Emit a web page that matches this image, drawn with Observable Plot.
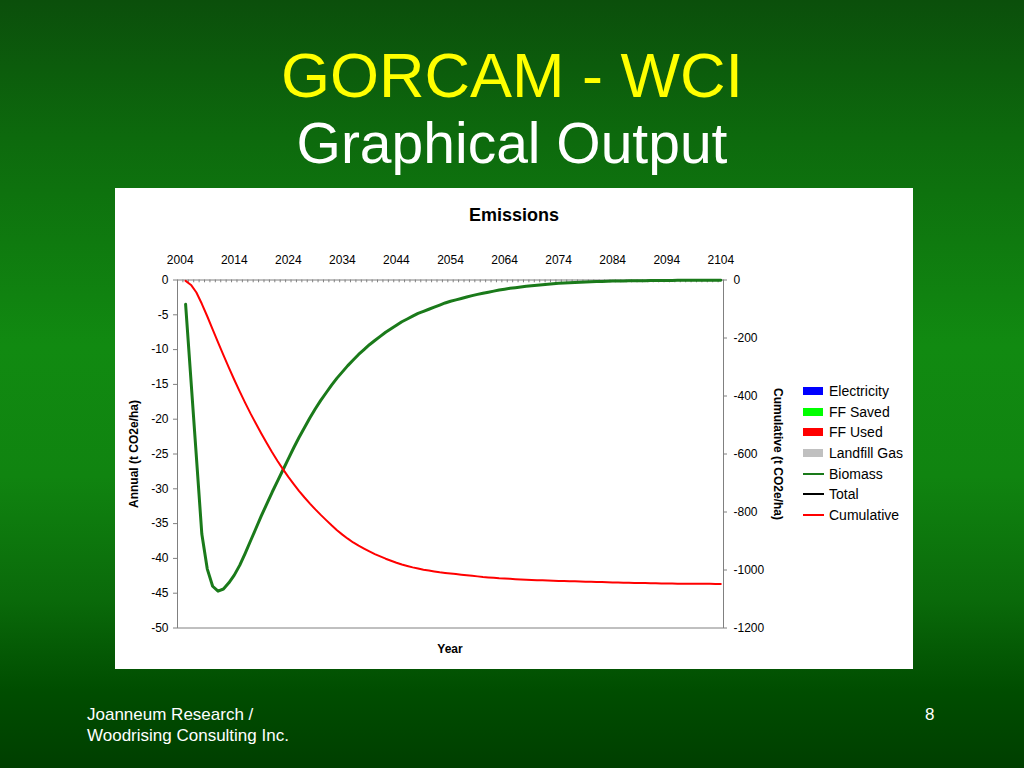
<!DOCTYPE html>
<html><head><meta charset="utf-8">
<script src="https://cdn.jsdelivr.net/npm/d3@7"></script>
<script src="https://cdn.jsdelivr.net/npm/@observablehq/plot@0.6"></script>
<style>
html,body{margin:0;padding:0;}
body{width:1024px;height:768px;overflow:hidden;position:relative;font-family:"Liberation Sans",Arial,sans-serif;
background:linear-gradient(180deg,#0b4f0b 0%,#0d6a0d 18%,#118a11 45%,#108410 62%,#0a6a0a 78%,#004d00 90%,#003f00 100%);}
.abs{position:absolute;white-space:nowrap;}
#t1{left:0;width:1024px;text-align:center;top:43.5px;font-size:63px;line-height:1;color:#ffff00;}
#t2{left:0;width:1024px;text-align:center;top:115px;font-size:57px;line-height:1;color:#ffffff;}
#panel{position:absolute;left:115px;top:188px;width:798px;height:481px;background:#fff;}
#panel svg{position:absolute;left:0;top:0;}
.ctr{transform:translate(-50%,-50%);line-height:1;font-weight:bold;color:#000;}
#ctitle{left:399px;top:26.5px;font-size:18px;}
#xlab{left:335px;top:461px;font-size:12px;}
#ylab{left:19px;top:265.5px;font-size:12px;transform:translate(-50%,-50%) rotate(-90deg);}
#y2lab{left:663px;top:265.5px;font-size:12px;transform:translate(-50%,-50%) rotate(90deg);}
#legend{left:688px;top:193px;font-size:14px;color:#000;}
.row{display:flex;align-items:center;height:20.6px;}
.sw{width:20px;margin-right:6px;}
#foot{left:87px;top:704px;font-size:17px;line-height:21px;color:#fff;}
#page{left:925px;top:704px;font-size:17px;line-height:21px;color:#fff;}
</style></head><body>
<div id="t1" class="abs">GORCAM - WCI</div>
<div id="t2" class="abs">Graphical Output</div>
<div id="panel">
  <div id="ctitle" class="abs ctr">Emissions</div>
  <div id="xlab" class="abs ctr">Year</div>
  <div id="ylab" class="abs ctr">Annual (t CO2e/ha)</div>
  <div id="y2lab" class="abs ctr">Cumulative (t CO2e/ha)</div>
  <div id="legend" class="abs"></div>
</div>
<div id="foot" class="abs">Joanneum Research /<br>Woodrising Consulting Inc.</div>
<div id="page" class="abs">8</div>
<script>
// ---- data ----
const firstYear = 2005;
const annual = [
  -3.5, -14.5, -25.5, -36.5, -41.5, -44.0, -44.7, -44.4, -43.5, -42.4,
  -41.0, -39.3, -37.5, -35.7, -33.9, -32.2, -30.5, -28.9, -27.3, -25.7,
  -24.1, -22.6, -21.2, -19.8, -18.5, -17.3, -16.2, -15.1, -14.1, -13.2,
  -12.3, -11.5, -10.7, -10.0, -9.3, -8.7, -8.1, -7.5, -7.0, -6.5,
  -6.0, -5.6, -5.2, -4.8, -4.5, -4.2, -3.9, -3.6, -3.3, -3.05,
  -2.85, -2.65, -2.45, -2.25, -2.07, -1.9, -1.75, -1.6, -1.45, -1.33,
  -1.2, -1.1, -1.0, -0.9, -0.82, -0.74, -0.67, -0.6, -0.54, -0.48,
  -0.43, -0.39, -0.35, -0.31, -0.28, -0.25, -0.22, -0.2, -0.18, -0.16,
  -0.14, -0.13, -0.12, -0.11, -0.1, -0.09, -0.08, -0.07, -0.065, -0.06,
  -0.055, -0.05, -0.045, -0.04, -0.037, -0.034, -0.031, -0.028, -0.025, -0.022
];
const cumulative = [
  -3, -17, -43, -82, -125, -170, -215, -259, -302, -344,
  -384, -423, -460, -495, -529, -562, -594, -624, -652, -679,
  -704, -728, -750, -771, -791, -810, -828, -846, -863, -878,
  -892, -905, -916, -926, -936, -945, -953, -961, -968, -975,
  -981, -986, -991, -995, -999, -1002, -1005, -1008, -1010, -1012,
  -1014, -1016, -1018, -1020, -1022, -1024, -1025.5, -1027, -1028.5, -1029.5,
  -1030.5, -1031.5, -1032.5, -1033.5, -1034.3, -1035, -1035.7, -1036.4, -1037, -1037.6,
  -1038.2, -1038.7, -1039.2, -1039.7, -1040.2, -1040.7, -1041.2, -1041.7, -1042.2, -1042.7,
  -1043.2, -1043.6, -1044, -1044.4, -1044.8, -1045.2, -1045.6, -1045.9, -1046.2, -1046.5,
  -1046.8, -1047, -1047.2, -1047.4, -1047.5, -1047.6, -1047.7, -1047.8, -1047.9, -1048
];
const xTicks = [2004, 2014, 2024, 2034, 2044, 2054, 2064, 2074, 2084, 2094, 2104];
const yTicks = [0, -5, -10, -15, -20, -25, -30, -35, -40, -45, -50];
const y2Ticks = [0, -200, -400, -600, -800, -1000, -1200];
const legendItems = [
  {name: "Electricity", type: "box", color: "#0000ff"},
  {name: "FF Saved", type: "box", color: "#00ff00"},
  {name: "FF Used", type: "box", color: "#ff0000"},
  {name: "Landfill Gas", type: "box", color: "#c0c0c0"},
  {name: "Biomass", type: "line", color: "#1a7a1a"},
  {name: "Total", type: "line", color: "#000000"},
  {name: "Cumulative", type: "line", color: "#ff0000"}
];

// ---- build ----
const ratio = 1200 / 50;
const years = annual.map((_, i) => firstYear + i);
const annualData = years.map((y, i) => ({year: y, value: annual[i]}));
const cumData = years.map((y, i) => ({year: y, value: cumulative[i] / ratio}));
const xMin = xTicks[0] - 0.5, xMax = xTicks[xTicks.length - 1] + 0.5;
const boundaries = d3.range(xMin, xMax + 0.01, 1);

const chart = Plot.plot({
  width: 798, height: 481,
  marginLeft: 62, marginRight: 190, marginTop: 91.5, marginBottom: 41.5,
  style: {background: "white", fontFamily: "'Liberation Sans', Arial, sans-serif", fontSize: "12px", color: "black", overflow: "visible"},
  x: {domain: [xMin, xMax]},
  y: {domain: [-50, 0]},
  marks: [
    Plot.ruleX(boundaries, {x: d => d, y1: 0, y2: -0.4, stroke: "#808080", strokeWidth: 1}),
    Plot.frame({stroke: "#808080"}),
    Plot.axisX({anchor: "top", ticks: xTicks, tickSize: 0, tickPadding: 16, tickFormat: d => String(d), fill: "black", label: null}),
    Plot.axisY({anchor: "left", ticks: yTicks, tickSize: 4, tickPadding: 5, tickFormat: d => String(d), stroke: "#808080", fill: "black", label: null}),
    Plot.axisY({anchor: "right", ticks: y2Ticks.map(v => v / ratio), tickSize: 3, tickPadding: 7, tickFormat: d => String(Math.round(d * ratio)), stroke: "#808080", fill: "black", label: null}),
    Plot.line(annualData, {x: "year", y: "value", stroke: "#1a7a1a", strokeWidth: 3}),
    Plot.line(cumData, {x: "year", y: "value", stroke: "#ff0000", strokeWidth: 2})
  ]
});
document.getElementById("panel").prepend(chart);

const legend = document.getElementById("legend");
for (const it of legendItems) {
  const row = document.createElement("div");
  row.className = "row";
  const sw = document.createElement("div");
  sw.className = "sw";
  sw.style.background = it.color;
  sw.style.height = it.type === "box" ? "8px" : "2px";
  if (it.type === "line") sw.style.width = "21px", sw.style.marginRight = "5px";
  const tx = document.createElement("span");
  tx.textContent = it.name;
  row.appendChild(sw); row.appendChild(tx);
  legend.appendChild(row);
}
</script>
</body></html>
